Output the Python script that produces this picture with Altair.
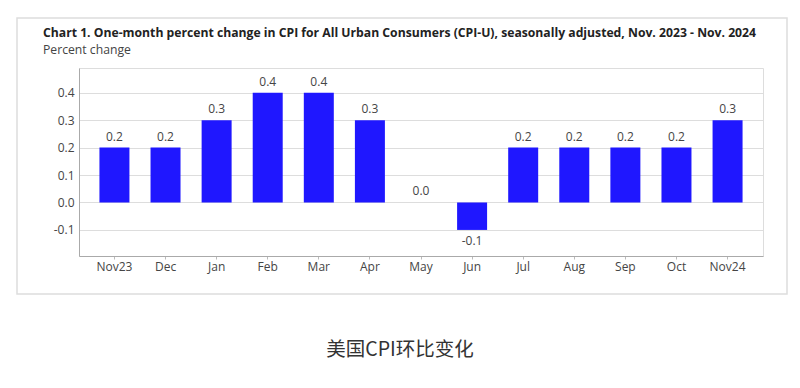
import altair as alt
import pandas as pd

months = ["Nov23", "Dec", "Jan", "Feb", "Mar", "Apr", "May", "Jun", "Jul", "Aug", "Sep", "Oct", "Nov24"]
values = [0.2, 0.2, 0.3, 0.4, 0.4, 0.3, 0.0, -0.1, 0.2, 0.2, 0.2, 0.2, 0.3]
y_ticks = [-0.1, 0.0, 0.1, 0.2, 0.3, 0.4]

title_text = "Chart 1. One-month percent change in CPI for All Urban Consumers (CPI-U), seasonally adjusted, Nov. 2023 - Nov. 2024"
subtitle_text = "Percent change"
caption_text = "美国CPI环比变化"

df = pd.DataFrame({"month": months, "value": values})

W, H = 684, 188
FONT = "Open Sans"
LBL = "#454545"
fmt_expr = "(datum.value < 0 ? '-' : '') + format(abs(datum.value), '.1f')"

x_enc = alt.X("month:N", sort=months, title=None,
              scale=alt.Scale(paddingInner=0.413, paddingOuter=0.40),
              axis=alt.Axis(labelAngle=0, labelFontSize=12, labelColor=LBL, labelFont=FONT,
                            tickSize=3, tickColor="#bbb", domainColor="#aaa", labelPadding=2))
y_enc = alt.Y("value:Q", title=None,
              scale=alt.Scale(domain=[-0.195, 0.49], nice=False, zero=False),
              axis=alt.Axis(values=y_ticks, labelExpr=fmt_expr, labelFontSize=12, labelColor=LBL,
                            labelFont=FONT, tickSize=0, labelPadding=5, domainColor="#aaa",
                            gridColor="#dddddd", grid=True, labelOverlap=False))

base = alt.Chart(df).transform_calculate(label=fmt_expr)
bars = base.mark_bar(color="#1f17ff").encode(x=x_enc, y=y_enc)
label_enc = dict(x=x_enc, y=y_enc, text=alt.Text("label:N"))
labels_pos = base.transform_filter(alt.datum.value >= 0).mark_text(
    fontSize=12, color=LBL, font=FONT, baseline="middle", dy=-11).encode(**label_enc)
labels_neg = base.transform_filter(alt.datum.value < 0).mark_text(
    fontSize=12, color=LBL, font=FONT, baseline="middle", dy=11).encode(**label_enc)

deco = alt.Chart(alt.Data(values=[{}]))
frame = deco.mark_rect(fill=None, stroke="#dddddd", strokeWidth=1.5).encode(
    x=alt.value(-62), x2=alt.value(708), y=alt.value(-50), y2=alt.value(226))
title = deco.mark_text(align="left", baseline="alphabetic", fontSize=12.2, fontWeight="bold",
                       font=FONT, color="#222").encode(
    x=alt.value(-36), y=alt.value(-31), text=alt.value(title_text))
subtitle = deco.mark_text(align="left", baseline="alphabetic", fontSize=12.2,
                          font=FONT, color="#444").encode(
    x=alt.value(-36), y=alt.value(-14), text=alt.value(subtitle_text))
caption = deco.mark_text(align="center", baseline="middle", fontSize=19.5,
                         font="Noto Sans CJK SC", color="#333").encode(
    x=alt.value(321), y=alt.value(282), text=alt.value(caption_text))

chart = alt.layer(bars, labels_pos, labels_neg, frame, title, subtitle, caption).properties(
    width=W, height=H,
    autosize=alt.AutoSizeParams(type="none"),
    padding={"left": 71, "top": 60, "right": 29, "bottom": 124},
).configure_view(stroke="#cccccc").configure_axis(labelOverlap=False).configure(background="white")

chart.save("out.html", embed_options={"renderer": "svg", "actions": False})
